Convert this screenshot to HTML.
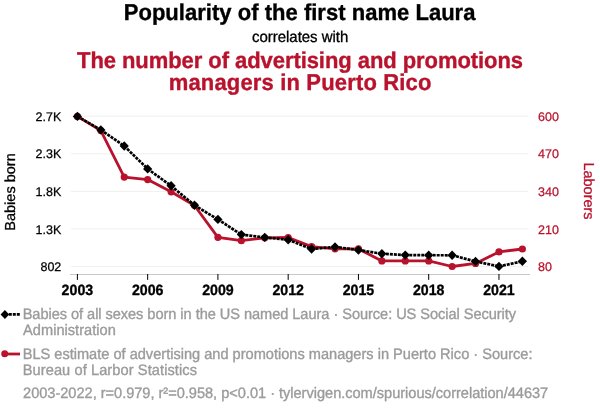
<!DOCTYPE html>
<html><head><meta charset="utf-8"><title>Popularity of the first name Laura correlates with The number of advertising and promotions managers in Puerto Rico</title>
<style>html,body{margin:0;padding:0;background:#fff;width:600px;height:414px;overflow:hidden}svg{display:block;will-change:transform}</style></head>
<body>
<svg width="600" height="414" viewBox="0 0 600 414" font-family="'Liberation Sans', Arial, sans-serif" text-rendering="geometricPrecision">
<rect width="600" height="414" fill="#fff"/>
<text transform="translate(123.73 19.7) scale(1 1.04)" font-size="22" font-weight="bold" fill="#000" stroke="#000" stroke-width="0.35" textLength="351.73" lengthAdjust="spacing">Popularity of the first name Laura</text>
<text transform="translate(252 42) scale(1 1.04)" font-size="15" fill="#000" stroke="#000" stroke-width="0.3" textLength="96.33" lengthAdjust="spacing">correlates with</text>
<text transform="translate(77.02 68) scale(1 1.04)" font-size="22" font-weight="bold" fill="#b9122d" stroke="#b9122d" stroke-width="0.35" textLength="446.09" lengthAdjust="spacing">The number of advertising and promotions</text>
<text transform="translate(168.68 90) scale(1 1.04)" font-size="22" font-weight="bold" fill="#b9122d" stroke="#b9122d" stroke-width="0.35" textLength="262.79" lengthAdjust="spacing">managers in Puerto Rico</text>
<line x1="71" y1="116.2" x2="528" y2="116.2" stroke="#f0f0f0" stroke-width="1"/>
<line x1="71" y1="153.8" x2="528" y2="153.8" stroke="#f0f0f0" stroke-width="1"/>
<line x1="71" y1="191.4" x2="528" y2="191.4" stroke="#f0f0f0" stroke-width="1"/>
<line x1="71" y1="228.9" x2="528" y2="228.9" stroke="#f0f0f0" stroke-width="1"/>
<line x1="71" y1="266.5" x2="528" y2="266.5" stroke="#f0f0f0" stroke-width="1"/>
<line x1="70" y1="274.5" x2="530" y2="274.5" stroke="#c8c8c8" stroke-width="1"/>
<line x1="77.4" y1="274" x2="77.4" y2="279.9" stroke="#000" stroke-width="1"/>
<text transform="translate(77.4 294.6) scale(1 1.05)" text-anchor="middle" font-size="14.2" font-weight="bold" fill="#000" stroke="#000" stroke-width="0.3">2003</text>
<line x1="147.66" y1="274" x2="147.66" y2="279.9" stroke="#000" stroke-width="1"/>
<text transform="translate(147.66 294.6) scale(1 1.05)" text-anchor="middle" font-size="14.2" font-weight="bold" fill="#000" stroke="#000" stroke-width="0.3">2006</text>
<line x1="217.92" y1="274" x2="217.92" y2="279.9" stroke="#000" stroke-width="1"/>
<text transform="translate(217.92 294.6) scale(1 1.05)" text-anchor="middle" font-size="14.2" font-weight="bold" fill="#000" stroke="#000" stroke-width="0.3">2009</text>
<line x1="288.18" y1="274" x2="288.18" y2="279.9" stroke="#000" stroke-width="1"/>
<text transform="translate(288.18 294.6) scale(1 1.05)" text-anchor="middle" font-size="14.2" font-weight="bold" fill="#000" stroke="#000" stroke-width="0.3">2012</text>
<line x1="358.44" y1="274" x2="358.44" y2="279.9" stroke="#000" stroke-width="1"/>
<text transform="translate(358.44 294.6) scale(1 1.05)" text-anchor="middle" font-size="14.2" font-weight="bold" fill="#000" stroke="#000" stroke-width="0.3">2015</text>
<line x1="428.7" y1="274" x2="428.7" y2="279.9" stroke="#000" stroke-width="1"/>
<text transform="translate(428.7 294.6) scale(1 1.05)" text-anchor="middle" font-size="14.2" font-weight="bold" fill="#000" stroke="#000" stroke-width="0.3">2018</text>
<line x1="498.96" y1="274" x2="498.96" y2="279.9" stroke="#000" stroke-width="1"/>
<text transform="translate(498.96 294.6) scale(1 1.05)" text-anchor="middle" font-size="14.2" font-weight="bold" fill="#000" stroke="#000" stroke-width="0.3">2021</text>
<text x="61.3" y="120.8" text-anchor="end" font-size="12.5" fill="#000" stroke="#000" stroke-width="0.25">2.7K</text>
<text x="61.3" y="158.4" text-anchor="end" font-size="12.5" fill="#000" stroke="#000" stroke-width="0.25">2.3K</text>
<text x="61.3" y="196" text-anchor="end" font-size="12.5" fill="#000" stroke="#000" stroke-width="0.25">1.8K</text>
<text x="61.3" y="233.5" text-anchor="end" font-size="12.5" fill="#000" stroke="#000" stroke-width="0.25">1.3K</text>
<text x="61.3" y="271.1" text-anchor="end" font-size="12.5" fill="#000" stroke="#000" stroke-width="0.25">802</text>
<text x="538" y="120.8" font-size="12.5" fill="#b9122d" stroke="#b9122d" stroke-width="0.25">600</text>
<text x="538" y="158.4" font-size="12.5" fill="#b9122d" stroke="#b9122d" stroke-width="0.25">470</text>
<text x="538" y="196" font-size="12.5" fill="#b9122d" stroke="#b9122d" stroke-width="0.25">340</text>
<text x="538" y="233.5" font-size="12.5" fill="#b9122d" stroke="#b9122d" stroke-width="0.25">210</text>
<text x="538" y="271.1" font-size="12.5" fill="#b9122d" stroke="#b9122d" stroke-width="0.25">80</text>
<text transform="translate(15.2 192) rotate(-90)" text-anchor="middle" font-size="14.5" fill="#000" stroke="#000" stroke-width="0.3">Babies born</text>
<text transform="translate(583.5 191) rotate(90)" text-anchor="middle" font-size="14.5" fill="#b9122d" stroke="#b9122d" stroke-width="0.3">Laborers</text>
<polyline points="77.4,116.4 100.82,130.6 124.24,177.1 147.66,179.6 171.08,191.8 194.5,205.5 217.92,237.3 241.34,240.7 264.76,237.8 288.18,237.5 311.6,246.6 335.02,248.8 358.44,248.9 381.86,260.9 405.28,260.9 428.7,260.9 452.12,266.5 475.54,263.4 498.96,251.9 522.38,249" fill="none" stroke="#b9122d" stroke-width="2.8" stroke-linejoin="round"/>
<circle cx="77.4" cy="116.4" r="3.6" fill="#b9122d"/>
<circle cx="100.82" cy="130.6" r="3.6" fill="#b9122d"/>
<circle cx="124.24" cy="177.1" r="3.6" fill="#b9122d"/>
<circle cx="147.66" cy="179.6" r="3.6" fill="#b9122d"/>
<circle cx="171.08" cy="191.8" r="3.6" fill="#b9122d"/>
<circle cx="194.5" cy="205.5" r="3.6" fill="#b9122d"/>
<circle cx="217.92" cy="237.3" r="3.6" fill="#b9122d"/>
<circle cx="241.34" cy="240.7" r="3.6" fill="#b9122d"/>
<circle cx="264.76" cy="237.8" r="3.6" fill="#b9122d"/>
<circle cx="288.18" cy="237.5" r="3.6" fill="#b9122d"/>
<circle cx="311.6" cy="246.6" r="3.6" fill="#b9122d"/>
<circle cx="335.02" cy="248.8" r="3.6" fill="#b9122d"/>
<circle cx="358.44" cy="248.9" r="3.6" fill="#b9122d"/>
<circle cx="381.86" cy="260.9" r="3.6" fill="#b9122d"/>
<circle cx="405.28" cy="260.9" r="3.6" fill="#b9122d"/>
<circle cx="428.7" cy="260.9" r="3.6" fill="#b9122d"/>
<circle cx="452.12" cy="266.5" r="3.6" fill="#b9122d"/>
<circle cx="475.54" cy="263.4" r="3.6" fill="#b9122d"/>
<circle cx="498.96" cy="251.9" r="3.6" fill="#b9122d"/>
<circle cx="522.38" cy="249" r="3.6" fill="#b9122d"/>
<path d="M77.4 116.4L100.82 129.9M100.82 129.9L124.24 146M124.24 146L147.66 168.9M147.66 168.9L171.08 185.8M171.08 185.8L194.5 205.3M194.5 205.3L217.92 219.4M217.92 219.4L241.34 234.6M241.34 234.6L264.76 237.4M264.76 237.4L288.18 239.8M288.18 239.8L311.6 249M311.6 249L335.02 246.9M335.02 246.9L358.44 250.1M358.44 250.1L381.86 253.7M381.86 253.7L405.28 255.1M405.28 255.1L428.7 255.2M428.7 255.2L452.12 255.3M452.12 255.3L475.54 261.4M475.54 261.4L498.96 266.4M498.96 266.4L522.38 261.3" fill="none" stroke="#000" stroke-width="2.7" stroke-dasharray="3 1"/>
<path d="M77.4 111.7L82 116.4L77.4 121.1L72.8 116.4Z" fill="#000"/>
<path d="M100.82 125.2L105.42 129.9L100.82 134.6L96.22 129.9Z" fill="#000"/>
<path d="M124.24 141.3L128.84 146L124.24 150.7L119.64 146Z" fill="#000"/>
<path d="M147.66 164.2L152.26 168.9L147.66 173.6L143.06 168.9Z" fill="#000"/>
<path d="M171.08 181.1L175.68 185.8L171.08 190.5L166.48 185.8Z" fill="#000"/>
<path d="M194.5 200.6L199.1 205.3L194.5 210L189.9 205.3Z" fill="#000"/>
<path d="M217.92 214.7L222.52 219.4L217.92 224.1L213.32 219.4Z" fill="#000"/>
<path d="M241.34 229.9L245.94 234.6L241.34 239.3L236.74 234.6Z" fill="#000"/>
<path d="M264.76 232.7L269.36 237.4L264.76 242.1L260.16 237.4Z" fill="#000"/>
<path d="M288.18 235.1L292.78 239.8L288.18 244.5L283.58 239.8Z" fill="#000"/>
<path d="M311.6 244.3L316.2 249L311.6 253.7L307 249Z" fill="#000"/>
<path d="M335.02 242.2L339.62 246.9L335.02 251.6L330.42 246.9Z" fill="#000"/>
<path d="M358.44 245.4L363.04 250.1L358.44 254.8L353.84 250.1Z" fill="#000"/>
<path d="M381.86 249L386.46 253.7L381.86 258.4L377.26 253.7Z" fill="#000"/>
<path d="M405.28 250.4L409.88 255.1L405.28 259.8L400.68 255.1Z" fill="#000"/>
<path d="M428.7 250.5L433.3 255.2L428.7 259.9L424.1 255.2Z" fill="#000"/>
<path d="M452.12 250.6L456.72 255.3L452.12 260L447.52 255.3Z" fill="#000"/>
<path d="M475.54 256.7L480.14 261.4L475.54 266.1L470.94 261.4Z" fill="#000"/>
<path d="M498.96 261.7L503.56 266.4L498.96 271.1L494.36 266.4Z" fill="#000"/>
<path d="M522.38 256.6L526.98 261.3L522.38 266L517.78 261.3Z" fill="#000"/>
<line x1="8.8" y1="314.4" x2="20" y2="314.4" stroke="#000" stroke-width="2.8" stroke-dasharray="3 1"/>
<path d="M4.9 309.9L9.2 314.5L4.9 319.1L0.6 314.5Z" fill="#000"/>
<line x1="7" y1="354" x2="20" y2="354" stroke="#b9122d" stroke-width="2.8"/>
<circle cx="4.7" cy="353.8" r="3.5" fill="#b9122d"/>
<text transform="translate(22.69 318.7) scale(1 1.04)" font-size="14.6" fill="#9b9b9b" stroke="#9b9b9b" stroke-width="0.35" textLength="493.39" lengthAdjust="spacing">Babies of all sexes born in the US named Laura · Source: US Social Security</text>
<text transform="translate(23.07 334.6) scale(1 1.04)" font-size="14.6" fill="#9b9b9b" stroke="#9b9b9b" stroke-width="0.35" textLength="92.76" lengthAdjust="spacing">Administration</text>
<text transform="translate(22.69 358.7) scale(1 1.04)" font-size="14.6" fill="#9b9b9b" stroke="#9b9b9b" stroke-width="0.35" textLength="509.77" lengthAdjust="spacing">BLS estimate of advertising and promotions managers in Puerto Rico · Source:</text>
<text transform="translate(22.69 374.7) scale(1 1.04)" font-size="14.6" fill="#9b9b9b" stroke="#9b9b9b" stroke-width="0.35" textLength="174.34" lengthAdjust="spacing">Bureau of Larbor Statistics</text>
<text transform="translate(23.05 397.6) scale(1 1.04)" font-size="14.6" fill="#9b9b9b" stroke="#9b9b9b" stroke-width="0.35" textLength="525.18" lengthAdjust="spacing">2003-2022, r=0.979, r²=0.958, p&lt;0.01 · tylervigen.com/spurious/correlation/44637</text>
</svg>
</body></html>
